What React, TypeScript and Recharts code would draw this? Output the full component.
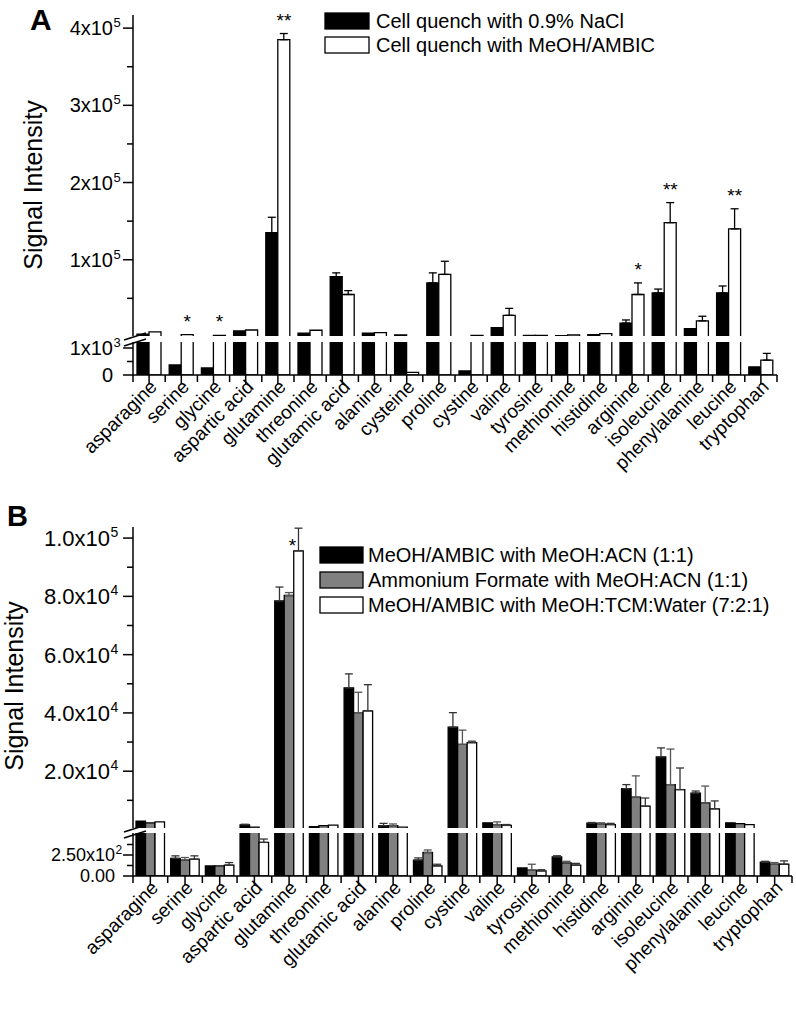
import React from 'react';
import { ComposedChart, Bar, XAxis, YAxis, ErrorBar, Line, LabelList } from 'recharts';

const FONT = '"Liberation Sans", Arial, Helvetica, sans-serif';

// ---------- Panel A data ----------
const categoriesA = ['asparagine', 'serine', 'glycine', 'aspartic acid', 'glutamine', 'threonine', 'glutamic acid', 'alanine', 'cysteine', 'proline', 'cystine', 'valine', 'tyrosine', 'methionine', 'histidine', 'arginine', 'isoleucine', 'phenylalanine', 'leucine', 'tryptophan'];
const naclA = [3500, 370, 260, 7800, 135000, 4800, 78000, 4800, 2500, 70000, 150, 12000, 2000, 1800, 3000, 18000, 57000, 10800, 57000, 300];
const naclErrA = [0, 0, 0, 0, 20000, 0, 5000, 0, 0, 13000, 0, 0, 0, 0, 0, 4000, 5000, 0, 9000, 0];
const meohA = [6500, 3000, 2000, 9000, 385000, 8700, 55000, 5600, 100, 81000, 2000, 28000, 2000, 2500, 4300, 55000, 148000, 20800, 140000, 550];
const meohErrA = [0, 0, 0, 0, 8000, 0, 5000, 0, 0, 17000, 0, 9000, 0, 0, 0, 15000, 26000, 6000, 26000, 250];
const starsA = ['', '*', '*', '', '**', '', '', '', '', '', '', '', '', '', '', '*', '**', '', '**', ''];
const legendA = ['Cell quench with 0.9% NaCl', 'Cell quench with MeOH/AMBIC'];

const majorAUpper = [100000, 200000, 300000, 400000];
const majorAUpperText = ['1x10', '2x10', '3x10', '4x10'];
const majorAUpperExp = ['5', '5', '5', '5'];
const minorAUpper = [50000, 150000, 250000, 350000];
const majorALower = [0, 1000];
const majorALowerText = ['0', '1x10'];
const majorALowerExp = ['', '3'];
const minorALower = [500];

// ---------- Panel B data ----------
const categoriesB = ['asparagine', 'serine', 'glycine', 'aspartic acid', 'glutamine', 'threonine', 'glutamic acid', 'alanine', 'proline', 'cystine', 'valine', 'tyrosine', 'methionine', 'histidine', 'arginine', 'isoleucine', 'phenylalanine', 'leucine', 'tryptophan'];
const acnB = [2900, 210, 120, 1600, 78400, 1000, 48600, 1300, 190, 35100, 2300, 95, 226, 2200, 14000, 24900, 12500, 2300, 165];
const acnErrB = [0, 30, 0, 200, 4800, 0, 4800, 800, 25, 5000, 0, 0, 15, 200, 1400, 3100, 700, 0, 10];
const afB = [2300, 190, 120, 800, 80300, 1300, 40100, 1300, 280, 29200, 1700, 70, 155, 1900, 11100, 15400, 9100, 2000, 140];
const afErrB = [0, 30, 0, 0, 1000, 0, 7000, 600, 30, 4900, 900, 70, 20, 400, 7300, 12200, 5800, 0, 20];
const tcmB = [2600, 200, 130, 400, 95600, 1500, 40700, 800, 120, 29800, 1400, 60, 130, 1700, 8000, 13700, 7100, 1700, 140];
const tcmErrB = [0, 40, 30, 40, 7800, 0, 9000, 0, 20, 500, 300, 15, 20, 400, 2800, 7400, 2700, 0, 40];
const starsB = ['', '', '', '', '*', '', '', '', '', '', '', '', '', '', '', '', '', '', ''];
const legendB = ['MeOH/AMBIC with MeOH:ACN (1:1)', 'Ammonium Formate with MeOH:ACN (1:1)', 'MeOH/AMBIC with MeOH:TCM:Water (7:2:1)'];

const majorBUpper = [20000, 40000, 60000, 80000, 100000];
const majorBUpperText = ['2.0x10', '4.0x10', '6.0x10', '8.0x10', '1.0x10'];
const majorBUpperExp = ['4', '4', '4', '4', '5'];
const minorBUpper = [10000, 30000, 50000, 70000, 90000];
const majorBLower = [0, 250];
const majorBLowerText = ['0.00', '2.50x10'];
const majorBLowerExp = ['', '2'];
const minorBLower = [125, 375];

// axis break values (segment limits)
const BREAK_A = 1222;
const BREAK_B = 512;

const err = (e: number) => (e ? [0, e] : null);
const errUpper = (v: number, e: number, brk: number) => (e && v > brk ? [0, e] : null);

const rowsA = categoriesA.map((name, i) => ({
  name,
  nacl: naclA[i],
  naclErr: err(naclErrA[i]),
  naclErrU: errUpper(naclA[i], naclErrA[i], BREAK_A),
  meoh: meohA[i],
  meohErr: err(meohErrA[i]),
  meohErrU: errUpper(meohA[i], meohErrA[i], BREAK_A),
  star: starsA[i],
  starY: starsA[i] ? meohA[i] + meohErrA[i] : null,
}));

const rowsB = categoriesB.map((name, i) => ({
  name,
  acn: acnB[i],
  acnErr: err(acnErrB[i]),
  acnErrU: errUpper(acnB[i], acnErrB[i], BREAK_B),
  af: afB[i],
  afErr: err(afErrB[i]),
  afErrU: errUpper(afB[i], afErrB[i], BREAK_B),
  tcm: tcmB[i],
  tcmErr: err(tcmErrB[i]),
  tcmErrU: errUpper(tcmB[i], tcmErrB[i], BREAK_B),
  star: starsB[i],
}));

// ---------- helpers ----------
type TickOpts = { fs: number; gap: number; supFs: number; raise: number };
const makeYTick = (major: number[], text: string[], exp: string[], o: TickOpts) => (props: any) => {
  const { x, y, payload } = props;
  const i = major.indexOf(payload.value);
  const isMajor = i >= 0;
  const base = y + o.fs * 0.358;
  return (
    <g>
      <line x1={x - (isMajor ? 10 : 6)} y1={y} x2={x} y2={y} stroke="#000" strokeWidth={1.5} />
      {isMajor ? (
        <text x={x - o.gap} y={base} textAnchor="end" fontSize={o.fs} fontFamily={FONT} fill="#000">
          {text[i]}
        </text>
      ) : null}
      {isMajor && exp[i] ? (
        <text x={x - o.gap + 0.5} y={base - o.raise} textAnchor="start" fontSize={o.supFs} fontFamily={FONT} fill="#000">
          {exp[i]}
        </text>
      ) : null}
    </g>
  );
};

const makeXTick = (band: number) => (props: any) => {
  const { x, y, payload, index } = props;
  return (
    <g>
      <line x1={x} y1={y} x2={x} y2={y + 9} stroke="#000" strokeWidth={1.5} />
      <line x1={x + band / 2} y1={y} x2={x + band / 2} y2={y + 7} stroke="#000" strokeWidth={1.5} />
      {index === 0 ? <line x1={x - band / 2} y1={y} x2={x - band / 2} y2={y + 7} stroke="#000" strokeWidth={1.5} /> : null}
      <text transform={`translate(${x + 9},${y + 13}) rotate(-45)`} textAnchor="end" fontSize={19} fontFamily={FONT} fill="#000">
        {payload.value}
      </text>
    </g>
  );
};

const OpenBar = (props: any) => {
  const { x, y, width, height, fill, stroke } = props;
  if (!height || height <= 0 || !width) return null;
  return (
    <g>
      <rect x={x} y={y} width={width} height={height} fill={fill} />
      <path d={`M${x},${y + height}V${y}H${x + width}V${y + height}`} fill="none" stroke={stroke} strokeWidth={1.3} />
    </g>
  );
};

const StarA = (props: any) => {
  const vb = props.viewBox || {};
  const x = props.x ?? vb.x;
  const y = props.y ?? vb.y;
  if (!props.value || y == null || Number.isNaN(y)) return null;
  return (
    <text x={x + 6} y={y - 7} textAnchor="middle" fontSize={19} fontFamily={FONT} fill="#000">
      {props.value}
    </text>
  );
};

const StarB = (props: any) => {
  const { x, y, width, index } = props;
  const s = starsB[index];
  if (!s) return null;
  return (
    <text x={x + width / 2 - 6} y={y + 1} textAnchor="middle" fontSize={19} fontFamily={FONT} fill="#000">
      {s}
    </text>
  );
};

const axisStyle = { stroke: '#000', strokeWidth: 1.5 };
const BAND_A = 644 / 20;
const BAND_B = 659 / 19;

const tickAU = makeYTick(majorAUpper, majorAUpperText, majorAUpperExp, { fs: 20, gap: 20, supFs: 13, raise: 8 });
const tickAL = makeYTick(majorALower, majorALowerText, majorALowerExp, { fs: 20, gap: 20, supFs: 13, raise: 8 });
const tickBU = makeYTick(majorBUpper, majorBUpperText, majorBUpperExp, { fs: 22, gap: 23, supFs: 14, raise: 9 });
const tickBL = makeYTick(majorBLower, majorBLowerText, majorBLowerExp, { fs: 18, gap: 18, supFs: 12, raise: 7 });
const xTickA = makeXTick(BAND_A);
const xTickB = makeXTick(BAND_B);

export default function App() {
  return (
    <div style={{ position: 'absolute', left: 0, top: 0, width: 796, height: 1019, background: '#fff', fontFamily: FONT }}>
      {/* Panel A upper */}
      <div style={{ position: 'absolute', left: 0, top: 0 }}>
        <ComposedChart width={796} height={336} data={rowsA} margin={{ top: 15, right: 19, bottom: 0, left: 0 }} barGap={0}>
          <XAxis dataKey="name" hide />
          <YAxis type="number" domain={[BREAK_A, 417000]} allowDataOverflow ticks={[...minorAUpper, ...majorAUpper]} interval={0} width={133} tick={tickAU} tickLine={false} tickSize={0} tickMargin={0} axisLine={axisStyle} />
          <Bar dataKey="nacl" fill="#000" stroke="#000" barSize={12} shape={OpenBar} isAnimationActive={false}>
            <ErrorBar dataKey="naclErrU" direction="y" width={4} stroke="#000" strokeWidth={1.3} isAnimationActive={false} />
          </Bar>
          <Bar dataKey="meoh" fill="#fff" stroke="#000" barSize={12} shape={OpenBar} isAnimationActive={false}>
            <ErrorBar dataKey="meohErrU" direction="y" width={4} stroke="#000" strokeWidth={1.3} isAnimationActive={false} />
          </Bar>
          <Line dataKey="starY" stroke="none" dot={false} activeDot={false} isAnimationActive={false} connectNulls={false}>
            <LabelList dataKey="star" content={StarA} />
          </Line>
        </ComposedChart>
      </div>
      {/* Panel A lower */}
      <div style={{ position: 'absolute', left: 0, top: 330 }}>
        <ComposedChart width={796} height={152} data={rowsA} margin={{ top: 12, right: 19, bottom: 0, left: 0 }} barGap={0}>
          <XAxis dataKey="name" height={107} interval={0} tick={xTickA} tickLine={false} tickSize={0} tickMargin={0} axisLine={axisStyle} />
          <YAxis type="number" domain={[0, BREAK_A]} allowDataOverflow ticks={[...minorALower, ...majorALower]} interval={0} width={133} tick={tickAL} tickLine={false} tickSize={0} tickMargin={0} axisLine={axisStyle} />
          <Bar dataKey="nacl" fill="#000" stroke="#000" strokeWidth={1.3} barSize={12} isAnimationActive={false}>
            <ErrorBar dataKey="naclErr" direction="y" width={4} stroke="#000" strokeWidth={1.3} isAnimationActive={false} />
          </Bar>
          <Bar dataKey="meoh" fill="#fff" stroke="#000" strokeWidth={1.3} barSize={12} isAnimationActive={false}>
            <ErrorBar dataKey="meohErr" direction="y" width={4} stroke="#000" strokeWidth={1.3} isAnimationActive={false} />
          </Bar>
        </ComposedChart>
      </div>

      {/* Panel B upper */}
      <div style={{ position: 'absolute', left: 0, top: 515 }}>
        <ComposedChart width={796} height={313} data={rowsB} margin={{ top: 12, right: 4, bottom: 0, left: 0 }} barGap={0}>
          <XAxis dataKey="name" hide />
          <YAxis type="number" domain={[BREAK_B, 103800]} allowDataOverflow ticks={[...minorBUpper, ...majorBUpper]} interval={0} width={133} tick={tickBU} tickLine={false} tickSize={0} tickMargin={0} axisLine={axisStyle} />
          <Bar dataKey="acn" fill="#000" stroke="#000" barSize={9.5} shape={OpenBar} isAnimationActive={false}>
            <ErrorBar dataKey="acnErrU" direction="y" width={4} stroke="#333" strokeWidth={1.3} isAnimationActive={false} />
          </Bar>
          <Bar dataKey="af" fill="#808080" stroke="#000" barSize={9.5} shape={OpenBar} isAnimationActive={false}>
            <ErrorBar dataKey="afErrU" direction="y" width={4} stroke="#555" strokeWidth={1.3} isAnimationActive={false} />
          </Bar>
          <Bar dataKey="tcm" fill="#fff" stroke="#000" barSize={9.5} shape={OpenBar} isAnimationActive={false}>
            <ErrorBar dataKey="tcmErrU" direction="y" width={4} stroke="#333" strokeWidth={1.3} isAnimationActive={false} />
            <LabelList dataKey="star" content={StarB} />
          </Bar>
        </ComposedChart>
      </div>
      {/* Panel B lower */}
      <div style={{ position: 'absolute', left: 0, top: 823 }}>
        <ComposedChart width={796} height={180} data={rowsB} margin={{ top: 10, right: 4, bottom: 0, left: 0 }} barGap={0}>
          <XAxis dataKey="name" height={127} interval={0} tick={xTickB} tickLine={false} tickSize={0} tickMargin={0} axisLine={axisStyle} />
          <YAxis type="number" domain={[0, BREAK_B]} allowDataOverflow ticks={[...minorBLower, ...majorBLower]} interval={0} width={133} tick={tickBL} tickLine={false} tickSize={0} tickMargin={0} axisLine={axisStyle} />
          <Bar dataKey="acn" fill="#000" stroke="#000" strokeWidth={1.3} barSize={9.5} isAnimationActive={false}>
            <ErrorBar dataKey="acnErr" direction="y" width={4} stroke="#333" strokeWidth={1.3} isAnimationActive={false} />
          </Bar>
          <Bar dataKey="af" fill="#808080" stroke="#000" strokeWidth={1.3} barSize={9.5} isAnimationActive={false}>
            <ErrorBar dataKey="afErr" direction="y" width={4} stroke="#555" strokeWidth={1.3} isAnimationActive={false} />
          </Bar>
          <Bar dataKey="tcm" fill="#fff" stroke="#000" strokeWidth={1.3} barSize={9.5} isAnimationActive={false}>
            <ErrorBar dataKey="tcmErr" direction="y" width={4} stroke="#333" strokeWidth={1.3} isAnimationActive={false} />
          </Bar>
        </ComposedChart>
      </div>

      {/* Overlay: panel letters, axis titles, legends, break marks */}
      <svg width={796} height={1019} style={{ position: 'absolute', left: 0, top: 0, pointerEvents: 'none' }} fontFamily={FONT}>
        <text x={30} y={30} fontSize={30} fontWeight="bold" fill="#000">A</text>
        <text x={7} y={526} fontSize={29} fontWeight="bold" fill="#000">B</text>
        <text transform="translate(42,185) rotate(-90)" textAnchor="middle" fontSize={25} fill="#000">Signal Intensity</text>
        <text transform="translate(23,686) rotate(-90)" textAnchor="middle" fontSize={25} fill="#000">Signal Intensity</text>

        <rect x={325} y={13} width={44} height={16} fill="#000" stroke="#000" strokeWidth={1.3} />
        <rect x={325} y={37} width={44} height={16} fill="#fff" stroke="#000" strokeWidth={1.3} />
        <text x={376} y={28} fontSize={20} fill="#000">{legendA[0]}</text>
        <text x={376} y={52} fontSize={20} fill="#000">{legendA[1]}</text>

        <rect x={320} y={547} width={43} height={16} fill="#000" stroke="#000" strokeWidth={1.3} />
        <rect x={320} y={572} width={43} height={16} fill="#808080" stroke="#000" strokeWidth={1.3} />
        <rect x={320} y={597} width={43} height={16} fill="#fff" stroke="#000" strokeWidth={1.3} />
        <text x={368} y={562} fontSize={20} fill="#000">{legendB[0]}</text>
        <text x={368} y={587} fontSize={20} fill="#000">{legendB[1]}</text>
        <text x={368} y={612} fontSize={20} fill="#000">{legendB[2]}</text>

        <line x1={124} y1={340} x2={146} y2={333} stroke="#000" strokeWidth={1.5} />
        <line x1={124} y1={346} x2={146} y2={339} stroke="#000" strokeWidth={1.5} />
        <line x1={124} y1={832} x2={146} y2={825} stroke="#000" strokeWidth={1.5} />
        <line x1={124} y1={838} x2={146} y2={831} stroke="#000" strokeWidth={1.5} />
      </svg>
    </div>
  );
}
